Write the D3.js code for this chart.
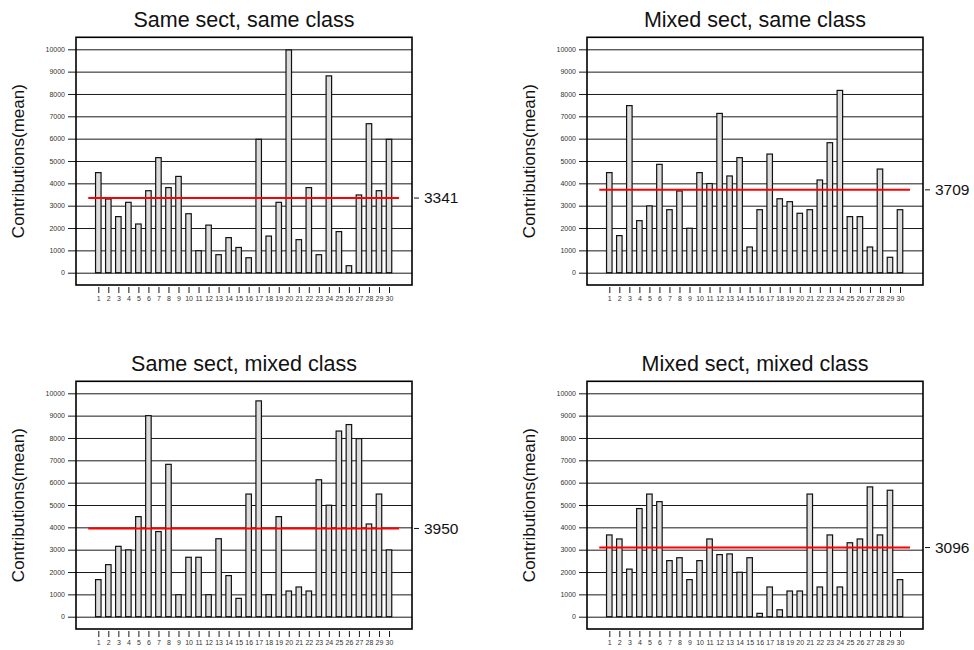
<!DOCTYPE html>
<html>
<head>
<meta charset="utf-8">
<script src="https://cdn.jsdelivr.net/npm/d3@7"></script>
<style>
    body { margin: 0; background: #fff; }
    svg { font-family: "Liberation Sans", Arial, sans-serif; }
</style>
</head>
<body>
<div id="chart"></div>
<script>

// group ids on the x axis
const groups = d3.range(1, 31);

// panel titles
const titles = [
    "Same sect, same class",
    "Mixed sect, same class",
    "Same sect, mixed class",
    "Mixed sect, mixed class"
];

// mean contributions per group
const sameSectSameClass = [4480, 3300, 2510, 3150, 2180, 3670, 5150, 3810, 4310, 2640,
    985, 2130, 806, 1570, 1130, 670, 5970, 1640, 3150, 9970,
    1480, 3810, 806, 8810, 1840, 313, 3480, 6670, 3670, 5970];

const mixedSectSameClass = [4480, 1660, 7480, 2330, 2990, 4850, 2820, 3660, 1990, 4480,
    3990, 7130, 4330, 5150, 1150, 2820, 5310, 3310, 3180, 2660,
    2820, 4150, 5820, 8160, 2510, 2510, 1150, 4640, 690, 2820];

const sameSectMixedClass = [1660, 2330, 3150, 2990, 4480, 9000, 3810, 6820, 985, 2660,
    2660, 985, 3490, 1840, 820, 5490, 9660, 985, 4480, 1150,
    1330, 1150, 6130, 4990, 8310, 8600, 7970, 4150, 5490, 2990];

const mixedSectMixedClass = [3660, 3480, 2130, 4840, 5490, 5150, 2510, 2640, 1660, 2510,
    3480, 2780, 2810, 1990, 2640, 150, 1330, 310, 1150, 1150,
    5490, 1330, 3660, 1330, 3310, 3480, 5810, 3660, 5660, 1660];

// overall means shown by the red lines
const means = [3341, 3709, 3950, 3096];

// y axis ticks
const yTicks = d3.range(0, 10001, 1000);

const series = [sameSectSameClass, mixedSectSameClass, sameSectMixedClass, mixedSectMixedClass];

const width = 974, height = 650;

const svg = d3.select("#chart").append("svg")
    .attr("width", width)
    .attr("height", height);

// plot box inside one panel
const box = {left: 76, right: 412, top: 37.3, bottom: 285};

// shared scales
const x = d3.scalePoint()
    .domain(groups)
    .range([98.3, 389]);

const y = d3.scaleLinear()
    .domain([0, 10000])
    .range([272.7, 49.3]);

const offsets = [[0, 0], [511, 0], [0, 344], [511, 344]];

series.forEach((values, i) => {
    let g = svg.append("g")
        .attr("transform", `translate(${offsets[i][0]}, ${offsets[i][1]})`);

    // title
    g.append("text")
        .attr("x", (box.left + box.right) / 2)
        .attr("y", 26.5)
        .attr("text-anchor", "middle")
        .attr("font-size", "21.5px")
        .attr("fill", "#111")
        .text(titles[i]);

    // y label
    g.append("text")
        .attr("transform", `translate(24, ${(box.top + box.bottom) / 2}) rotate(-90)`)
        .attr("text-anchor", "middle")
        .attr("font-size", "17px")
        .attr("fill", "#111")
        .text("Contributions(mean)");

    // gridlines + tick labels (axis sits on right edge, ticks reach to the left)
    let yAxis = d3.axisLeft(y)
        .tickValues(yTicks)
        .tickSize(box.right - 68)
        .tickPadding(3)
        .tickFormat(d3.format("d"));

    g.append("g")
        .attr("class", "y-axis")
        .attr("transform", `translate(${box.right}, 0)`)
        .call(yAxis)
        .call(a => a.select(".domain").remove())
        .call(a => a.selectAll("line").attr("stroke", "#1a1a1a").attr("stroke-width", 1))
        .call(a => a.selectAll("text")
            .attr("fill", "#333")
            .attr("font-size", "7px")
            .attr("font-family", "Liberation Sans, Arial, sans-serif"));

    // bars
    let bw = 5.5;
    g.selectAll("rect.bar")
        .data(values)
        .enter()
        .append("rect")
        .attr("class", "bar")
        .attr("x", (d, j) => x(groups[j]) - bw / 2)
        .attr("y", d => y(d))
        .attr("width", bw)
        .attr("height", d => y(0) - y(d))
        .attr("fill", "#dcdcdc")
        .attr("stroke", "#111")
        .attr("stroke-width", 1.2);

    // mean line
    let step = x.step();
    g.append("line")
        .attr("x1", x(groups[0]) - step)
        .attr("x2", x(groups[groups.length - 1]) + step)
        .attr("y1", y(means[i]))
        .attr("y2", y(means[i]))
        .attr("stroke", "#ff0000")
        .attr("stroke-width", 2);

    // mean label
    g.append("line")
        .attr("x1", box.right + 2)
        .attr("x2", box.right + 7)
        .attr("y1", y(means[i]))
        .attr("y2", y(means[i]))
        .attr("stroke", "#111")
        .attr("stroke-width", 1);

    g.append("text")
        .attr("x", box.right + 12)
        .attr("y", y(means[i]))
        .attr("dy", "0.35em")
        .attr("font-size", "15.5px")
        .attr("fill", "#111")
        .text(means[i]);

    // frame
    g.append("rect")
        .attr("x", box.left)
        .attr("y", box.top)
        .attr("width", box.right - box.left)
        .attr("height", box.bottom - box.top)
        .attr("fill", "none")
        .attr("stroke", "#000")
        .attr("stroke-width", 1.6);

    // x axis
    let xAxis = d3.axisBottom(x)
        .tickSize(6)
        .tickPadding(3);

    g.append("g")
        .attr("class", "x-axis")
        .attr("transform", `translate(0, ${box.bottom + 2})`)
        .call(xAxis)
        .call(a => a.select(".domain").remove())
        .call(a => a.selectAll("line").attr("stroke", "#1a1a1a"))
        .call(a => a.selectAll("text")
            .attr("fill", "#333")
            .attr("font-size", "7px")
            .attr("font-family", "Liberation Sans, Arial, sans-serif"));
});

</script>
</body>
</html>
